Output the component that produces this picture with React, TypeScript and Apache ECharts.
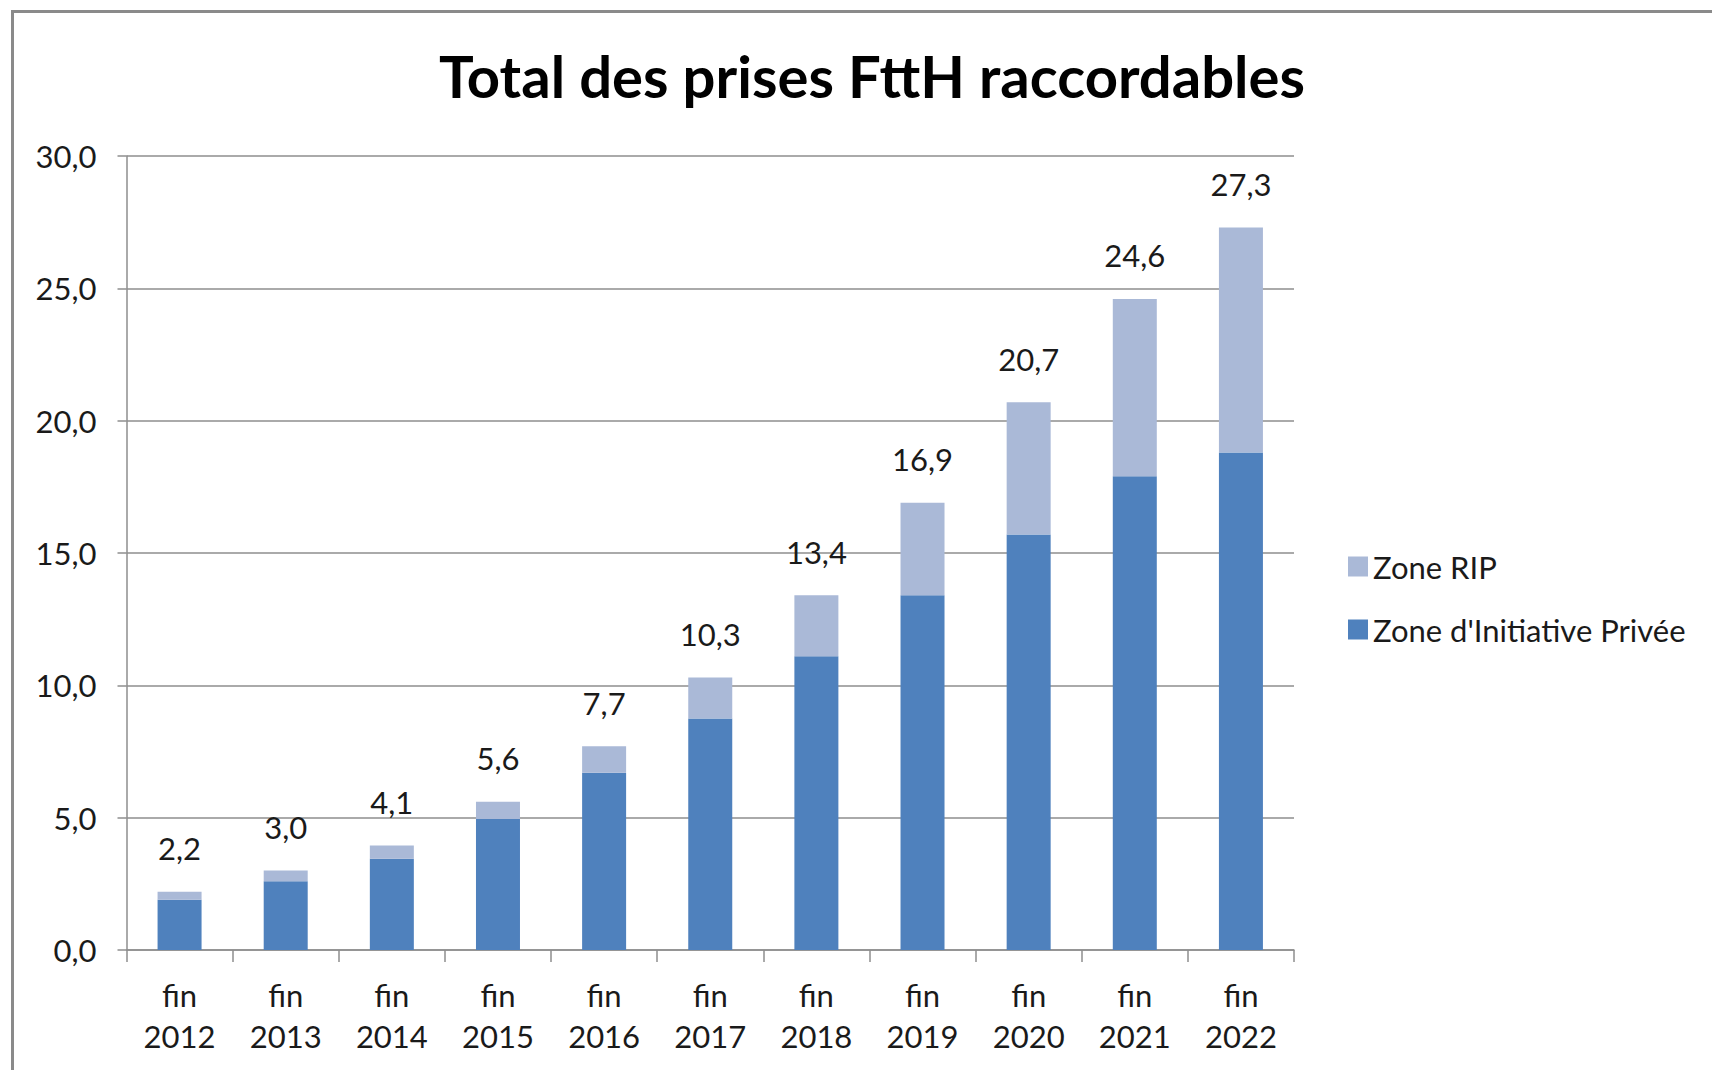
import React, { useEffect, useRef } from "react";
import * as echarts from "echarts";

const titleText = "Total des prises FttH raccordables";
const categories = [
  "fin\n2012", "fin\n2013", "fin\n2014", "fin\n2015", "fin\n2016", "fin\n2017",
  "fin\n2018", "fin\n2019", "fin\n2020", "fin\n2021", "fin\n2022",
];
const seriesPrivate = [1.9, 2.6, 3.45, 4.95, 6.7, 8.75, 11.1, 13.4, 15.7, 17.9, 18.8];
const seriesRip = [0.3, 0.4, 0.5, 0.65, 1.0, 1.55, 2.3, 3.5, 5.0, 6.7, 8.5];
const totals = [2.2, 3.0, 4.1, 5.6, 7.7, 10.3, 13.4, 16.9, 20.7, 24.6, 27.3];
const namePrivate = "Zone d'Initiative Privée";
const nameRip = "Zone RIP";

const FONT = "Lato";
const fmt = (v: number) => v.toFixed(1).replace(".", ",");

export default function App() {
  const ref = useRef<HTMLDivElement>(null);
  useEffect(() => {
    if (!ref.current) return;
    const chart = echarts.init(ref.current, null, { renderer: "svg" });
    chart.setOption({
      animation: false,
      backgroundColor: "#ffffff",
      textStyle: { fontFamily: FONT },
      graphic: [
        {
          type: "rect",
          shape: { x: 12.5, y: 11.5, width: 1720, height: 1080 },
          style: { fill: "none", stroke: "#8a8a8a", lineWidth: 3 },
          silent: true,
        },
        {
          type: "text",
          x: 872,
          y: 75,
          style: {
            text: titleText,
            font: `bold 58px ${FONT}`,
            fill: "#000000",
            textAlign: "center",
            textVerticalAlign: "middle",
          },
        },
      ],
      legend: {
        orient: "vertical",
        left: 1343,
        top: 546,
        itemWidth: 20,
        itemHeight: 20,
        itemGap: 32,
        icon: "rect",
        data: [nameRip, namePrivate],
        textStyle: { fontFamily: FONT, fontSize: 31, color: "#1a1a1a", lineHeight: 30 },
      },
      grid: { left: 126.5, right: 418, top: 156, bottom: 120, containLabel: false },
      xAxis: {
        type: "category",
        data: categories,
        axisLine: { show: true, lineStyle: { color: "#8e8e8e", width: 1.5 } },
        axisTick: { show: true, length: 12, lineStyle: { color: "#8e8e8e", width: 1.5 } },
        axisLabel: {
          fontFamily: FONT,
          fontSize: 31,
          color: "#1a1a1a",
          lineHeight: 41,
          margin: 24,
          interval: 0,
        },
      },
      yAxis: {
        type: "value",
        min: 0,
        max: 30,
        interval: 5,
        axisLine: { show: true, lineStyle: { color: "#8e8e8e", width: 1.5 } },
        axisTick: { show: true, length: 9, lineStyle: { color: "#8e8e8e", width: 1.5 } },
        splitLine: { show: true, lineStyle: { color: "#8e8e8e", width: 1.5 } },
        axisLabel: {
          fontFamily: FONT,
          fontSize: 31,
          color: "#1a1a1a",
          margin: 30,
          formatter: (v: number) => fmt(v),
        },
      },
      series: [
        {
          name: namePrivate,
          type: "bar",
          stack: "total",
          barWidth: 44,
          data: seriesPrivate,
          itemStyle: { color: "#4F81BD" },
        },
        {
          name: nameRip,
          type: "bar",
          stack: "total",
          barWidth: 44,
          data: seriesRip,
          itemStyle: { color: "#AAB9D7" },
          label: {
            show: true,
            position: "top",
            distance: 28,
            fontFamily: FONT,
            fontSize: 31,
            color: "#1a1a1a",
            formatter: (p: any) => fmt(totals[p.dataIndex]),
          },
        },
      ],
    });
    return () => chart.dispose();
  }, []);
  return (
    <div
      ref={ref}
      style={{ position: "absolute", left: 0, top: 0, width: 1712, height: 1070 }}
    />
  );
}
